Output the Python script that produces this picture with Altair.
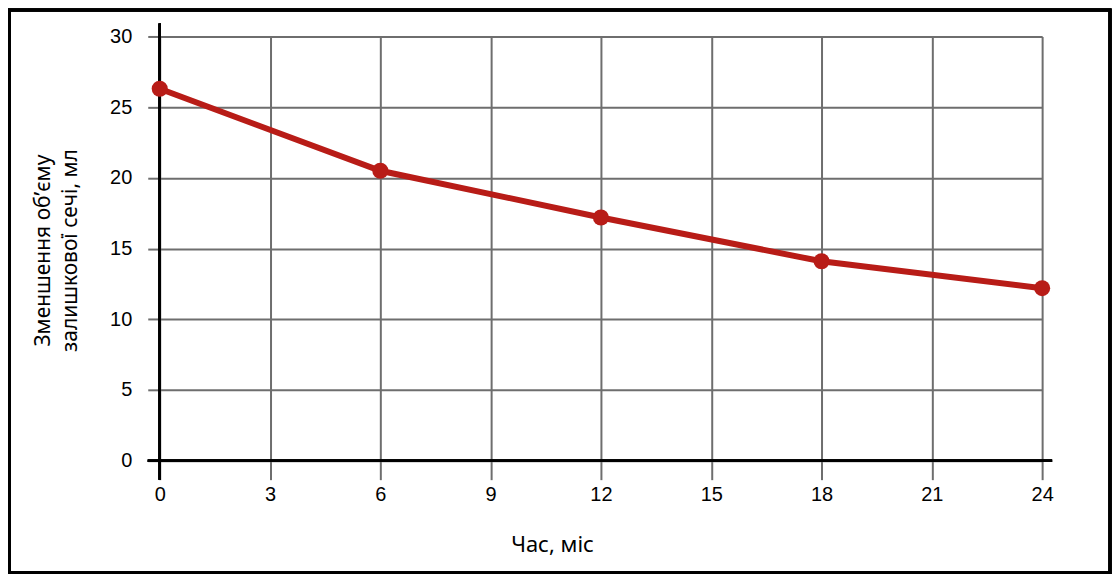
import altair as alt
import pandas as pd

months = [0, 6, 12, 18, 24]
reduction = [26.3, 20.5, 17.2, 14.1, 12.2]
x_ticks = [0, 3, 6, 9, 12, 15, 18, 21, 24]
y_ticks = [0, 5, 10, 15, 20, 25, 30]

x_title = "Час, міс"
y_title = ["Зменшення об’єму", "залишкової сечі, мл"]

df = pd.DataFrame({"m": months, "v": reduction})

W, H = 884, 425
RED = "#b81c17"
GRID = "#6e6e6e"

x_scale = alt.Scale(domain=[0, 24], nice=False, zero=False)
y_scale = alt.Scale(domain=[0, 30], nice=False)

x_axis = alt.Axis(
    values=x_ticks, title=x_title, grid=True, gridColor=GRID, gridWidth=2, gridOpacity=1,
    domain=False, tickColor=GRID, tickWidth=2, tickSize=19, labelFlush=False,
    labelFont="Liberation Sans", labelFontSize=20, labelColor="#000", labelPadding=5,
    titleFont="Noto Sans", titleFontSize=22, titleFontWeight="normal", titleColor="#000",
    titleX=393, titleY=84, titleAlign="center", titleBaseline="middle",
)
y_axis = alt.Axis(
    values=y_ticks, title=y_title, grid=True, gridColor=GRID, gridWidth=2, gridOpacity=1,
    domain=False, tickColor=GRID, tickWidth=2, tickSize=12, labelFlush=False,
    labelFont="Liberation Sans", labelFontSize=20, labelColor="#000", labelPadding=16,
    titleFont="Noto Sans", titleFontSize=21, titleFontWeight="normal", titleColor="#000",
    titleX=-116, titleY=214, titleAngle=-90, titleAlign="center", titleBaseline="middle",
    titleLineHeight=27,
)

base = alt.Chart(df)

grid_layer = base.mark_point(opacity=0).encode(
    x=alt.X("m:Q", scale=x_scale, axis=x_axis),
    y=alt.Y("v:Q", scale=y_scale, axis=y_axis),
)

vaxis = base.mark_rule(color="black", strokeWidth=2.5).encode(
    x=alt.value(0), y=alt.value(-13), y2=alt.value(H + 19)
)
haxis = base.mark_rule(color="black", strokeWidth=2.5).encode(
    y=alt.value(H), x=alt.value(-12), x2=alt.value(W + 10)
)

line = base.mark_line(color=RED, strokeWidth=6).encode(
    x=alt.X("m:Q", scale=x_scale), y=alt.Y("v:Q", scale=y_scale)
)
pts = base.mark_circle(color=RED, size=260, opacity=1).encode(
    x=alt.X("m:Q", scale=x_scale), y=alt.Y("v:Q", scale=y_scale)
)

border = base.mark_rect(filled=False, stroke="black", strokeWidth=3, clip=False).encode(
    x=alt.value(-150.5), x2=alt.value(W + 68), y=alt.value(-26.5), y2=alt.value(H + 112)
)

chart = alt.layer(grid_layer, vaxis, haxis, line, pts, border).properties(
    width=W, height=H,
    autosize=alt.AutoSizeParams(type="none"),
    padding={"left": 152, "top": 28, "right": 70, "bottom": 115},
).configure_view(stroke=None).configure(background="white")

chart.save("out.html", embed_options={"renderer": "svg", "actions": False})
